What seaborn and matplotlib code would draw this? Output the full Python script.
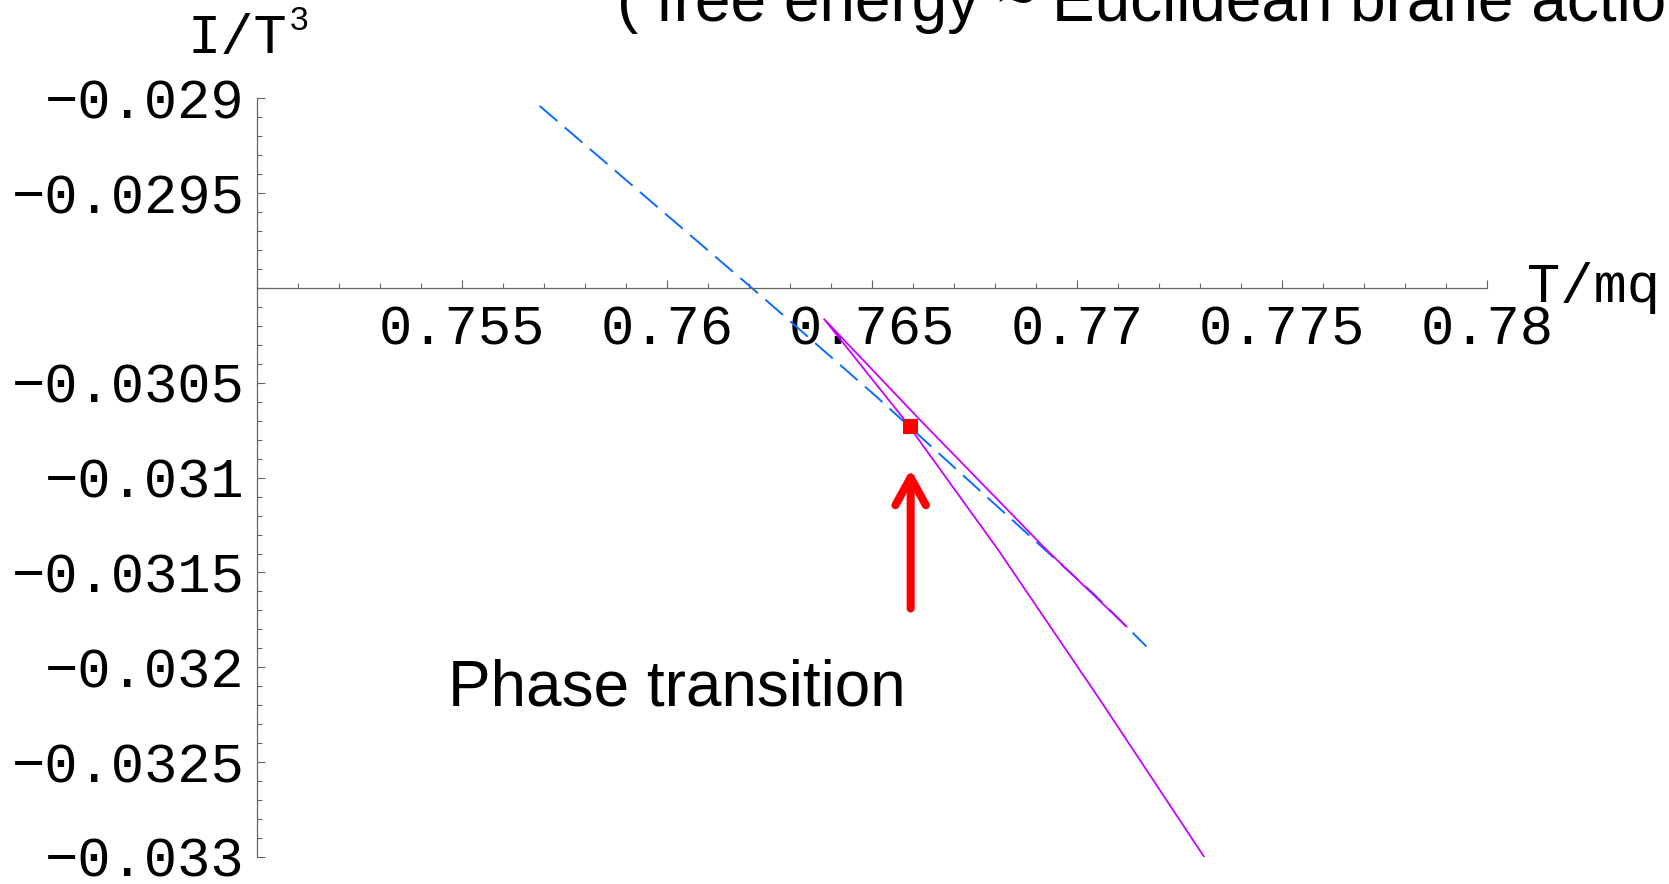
import matplotlib
matplotlib.use("Agg")
import matplotlib.pyplot as plt
import seaborn as sns
import pandas as pd
from matplotlib.ticker import MultipleLocator, FixedLocator, FixedFormatter

# dashed branch of I/T^3 versus T/mq
T_dashed = [0.7569, 0.7624, 0.7651, 0.7678, 0.7704, 0.7717]
I_dashed = [-0.02904, -0.03006, -0.03057, -0.03110, -0.03161, -0.03189]

# solid branch, traced through its cusp
T_solid = [0.77122, 0.76927, 0.76614, 0.76384, 0.76577, 0.76809, 0.77057, 0.77311]
I_solid = [-0.031786, -0.031382, -0.030687, -0.030164, -0.030687, -0.031382, -0.032172, -0.03300]

# phase transition point
T_transition = [0.76595]
I_transition = [-0.03073]

x_ticks = [0.75, 0.755, 0.76, 0.765, 0.77, 0.775, 0.78]
x_tick_labels = ["", "0.755", "0.76", "0.765", "0.77", "0.775", "0.78"]
y_ticks = [-0.029, -0.0295, -0.030, -0.0305, -0.031, -0.0315, -0.032, -0.0325, -0.033]
y_tick_labels = ["\u22120.029", "\u22120.0295", "", "\u22120.0305", "\u22120.031",
                 "\u22120.0315", "\u22120.032", "\u22120.0325", "\u22120.033"]

sns.set_style("white")
plt.rcParams["font.family"] = ["Liberation Mono", "DejaVu Sans Mono"]
plt.rcParams["text.color"] = "black"

MONO = "Liberation Mono"
SANS = "Liberation Sans"
AXIS_COLOR = "#666666"

fig = plt.figure(figsize=(16.69, 8.84), dpi=100)
ax = fig.add_axes([0.15381, 0.030543, 0.73696, 0.858258])

dashed = pd.DataFrame({"T": T_dashed, "I": I_dashed})
solid = pd.DataFrame({"T": T_solid, "I": I_solid})
point = pd.DataFrame({"T": T_transition, "I": I_transition})

sns.lineplot(data=dashed, x="T", y="I", ax=ax, color="#0A6CFF", lw=1.4,
             linestyle=(0, (12, 5)), sort=False, estimator=None)
sns.lineplot(data=solid, x="T", y="I", ax=ax, color="#CC00FF", lw=1.3,
             sort=False, estimator=None)
sns.scatterplot(data=point, x="T", y="I", ax=ax, marker="s", s=118,
                color="#FF0000", edgecolor="none", zorder=5)

# arrow pointing up at the transition
tx, ty = T_transition[0], I_transition[0]
ax.annotate("", xy=(tx, ty - 0.000225), xytext=(tx, ty - 0.00096),
            arrowprops=dict(arrowstyle="->,head_length=1.0,head_width=0.55",
                            lw=5.8, color="#FF0000", shrinkA=0, shrinkB=0,
                            mutation_scale=20, capstyle="round",
                            joinstyle="round"))

ax.text(0.75467, -0.03220, "Phase transition", family=SANS, fontsize=46,
        color="black", va="baseline", ha="left")

ax.set_xlim(0.75, 0.78)
ax.set_ylim(-0.033, -0.029)

# axes crossing at (0.75, -0.03)
for side in ("top", "right"):
    ax.spines[side].set_visible(False)
ax.spines["bottom"].set_position(("data", -0.030))
ax.spines["left"].set_position(("data", 0.75))
for side in ("bottom", "left"):
    ax.spines[side].set_color(AXIS_COLOR)
    ax.spines[side].set_linewidth(0.9)

ax.xaxis.set_major_locator(FixedLocator(x_ticks))
ax.xaxis.set_major_formatter(FixedFormatter(x_tick_labels))
ax.xaxis.set_minor_locator(MultipleLocator(0.001))
ax.yaxis.set_major_locator(FixedLocator(y_ticks))
ax.yaxis.set_major_formatter(FixedFormatter(y_tick_labels))
ax.yaxis.set_minor_locator(MultipleLocator(0.0001))

ax.tick_params(axis="both", which="both", direction="in", color=AXIS_COLOR,
               width=0.8, labelcolor="black", labelsize=40,
               bottom=True, left=True, top=False, right=False)
ax.tick_params(axis="both", which="major", length=5.8)
ax.tick_params(axis="both", which="minor", length=3.4)
ax.tick_params(axis="x", which="major", pad=12)
ax.tick_params(axis="y", which="major", pad=9)
for lab in ax.get_xticklabels() + ax.get_yticklabels():
    lab.set_family(MONO)

ax.set_xlabel("")
ax.set_ylabel("")

H = 884.0
W = 1669.0
# axis titles
fig.text(187 / W, 1 - 53.3 / H, "I/T", family=MONO, fontsize=40,
         va="baseline", ha="left", color="black")
fig.text(290 / W, 1 - 30 / H, "3", family=SANS, fontsize=24,
         va="baseline", ha="left", color="black")
fig.text(1527 / W, 1 - 301.7 / H, "T/mq", family=MONO, fontsize=40,
         va="baseline", ha="left", color="black")

# heading
fig.text(617 / W, 1 - 20.7 / H, "( free energy ~ Euclidean brane action )",
         family=SANS, fontsize=46, va="baseline", ha="left", color="black")

fig.savefig("out.png", dpi=100)
